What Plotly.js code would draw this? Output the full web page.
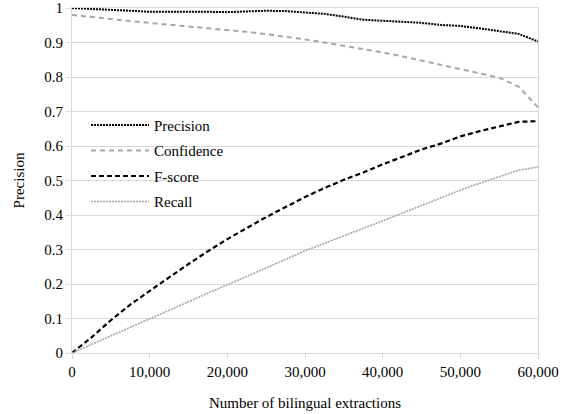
<!DOCTYPE html>
<html>
<head>
<meta charset="utf-8">
<script src="https://cdn.plot.ly/plotly-3.0.1.min.js"></script>
<style>html,body{margin:0;padding:0;background:#fff;}#chart{width:571px;height:414px;}</style>
</head>
<body>
<div id="chart"></div>
<script>
const extractions = [0,2500,5000,7500,10000,12500,15000,17500,20000,22500,25000,27500,30000,32500,35000,37500,40000,42500,45000,47500,50000,52500,55000,57500,60000];
const precision = [1.0,0.998,0.995,0.992,0.989,0.99,0.989,0.989,0.988,0.99,0.992,0.991,0.987,0.983,0.975,0.966,0.963,0.961,0.957,0.951,0.948,0.941,0.932,0.925,0.903];
const confidence = [0.98,0.975,0.968,0.962,0.957,0.952,0.947,0.942,0.937,0.931,0.924,0.917,0.909,0.9,0.891,0.881,0.871,0.86,0.848,0.836,0.824,0.811,0.798,0.772,0.712];
const fscore = [0,0.045,0.095,0.14,0.18,0.22,0.258,0.295,0.33,0.362,0.394,0.423,0.452,0.478,0.502,0.523,0.547,0.568,0.59,0.607,0.628,0.643,0.656,0.67,0.672];
const recall = [0,0.025,0.05,0.075,0.1,0.125,0.15,0.175,0.198,0.222,0.247,0.272,0.296,0.318,0.339,0.36,0.383,0.405,0.428,0.45,0.472,0.492,0.51,0.53,0.539];
const seriesNames = ["Precision","Confidence","F-score","Recall"];
const xTitle = "Number of bilingual extractions";
const yTitle = "Precision";

const fam = "Liberation Serif";
const traces = [
  {x: extractions, y: precision, name: seriesNames[0], legendgroup: "a", mode: "lines", line: {color: "#000000", width: 2, dash: "2px,1px"}},
  {x: extractions, y: confidence, name: seriesNames[1], legendgroup: "b", mode: "lines", line: {color: "#a6a6a6", width: 2, dash: "5px,4px"}},
  {x: extractions, y: fscore, name: seriesNames[2], legendgroup: "c", mode: "lines", line: {color: "#000000", width: 2.2, dash: "5px,3px"}},
  {x: extractions, y: recall, name: seriesNames[3], legendgroup: "d", mode: "lines", line: {color: "#a6a6a6", width: 1.6, dash: "2px,1px"}}
];
const layout = {
  width: 571, height: 414,
  margin: {l: 72, r: 33, t: 8, b: 61},
  paper_bgcolor: "#ffffff", plot_bgcolor: "#ffffff",
  font: {family: fam, size: 15, color: "#000000"},
  showlegend: true,
  legend: {x: 0.03, y: 0.708, xanchor: "left", yanchor: "top", bgcolor: "rgba(0,0,0,0)", itemwidth: 58, tracegroupgap: 3},
  xaxis: {
    range: [0, 60000], dtick: 10000, tick0: 0, tickformat: ",d",
    showgrid: false, zeroline: false,
    showline: true, linecolor: "#d9d9d9", linewidth: 1, mirror: true,
    ticks: "outside", ticklen: 5, tickcolor: "#d9d9d9",
    title: {text: xTitle, font: {size: 15}, standoff: 18}
  },
  yaxis: {
    range: [0, 1], dtick: 0.1, tick0: 0,
    showgrid: true, gridcolor: "#d9d9d9", gridwidth: 1, zeroline: false,
    showline: true, linecolor: "#d9d9d9", linewidth: 1, mirror: true,
    ticks: "outside", ticklen: 5, tickcolor: "#d9d9d9",
    title: {text: yTitle, font: {size: 15}, standoff: 16}
  }
};
Plotly.newPlot("chart", traces, layout, {displayModeBar: false, staticPlot: true});
</script>
</body>
</html>
